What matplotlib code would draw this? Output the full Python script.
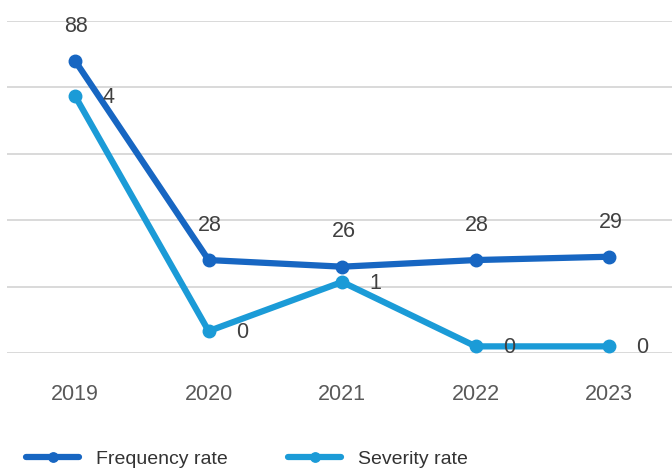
import matplotlib.pyplot as plt

years = ["2019", "2020", "2021", "2022", "2023"]
frequency_rate = [88, 28, 26, 28, 29]
severity_rate = [3.87, 0.33, 1.07, 0.10, 0.10]

dark_blue = "#1766C2"
light_blue = "#1B9BD7"

plt.rcParams['font.family'] = ['Liberation Sans', 'DejaVu Sans']

fig = plt.figure(figsize=(6.72, 4.72), dpi=100)
ax = fig.add_axes([0.0104, 0.2521, 0.9896, 0.7034])
ax2 = ax.twinx()

x = list(range(len(years)))

# frequency rate on the main axis
ax.plot(x, frequency_rate, color=dark_blue, lw=4.5, marker='o', ms=9,
        solid_capstyle='round', label="Frequency rate", zorder=3)
for xi, v in zip(x, frequency_rate):
    ax.annotate(f"{v:.0f}", (xi, v), xytext=(1, 25), textcoords='offset points',
                ha='center', va='center', fontsize=15.5, color='#404040')

# severity rate on its own (hidden) scale
ax2.plot(x, severity_rate, color=light_blue, lw=4.5, marker='o', ms=9,
         solid_capstyle='round', label="Severity rate", zorder=3)
for xi, v in zip(x, severity_rate):
    ax2.annotate(f"{v:.0f}", (xi, v), xytext=(24, -1), textcoords='offset points',
                 ha='center', va='center', fontsize=15.5, color='#404040')

ax.set_xlim(-0.51, 4.47)
ax.set_ylim(0, 100)
ax.set_yticks(range(0, 101, 20))
ax2.set_ylim(0, 5)
ax2.set_yticks([])

ax.grid(axis='y', color='#D9D9D9', lw=1.4)
ax.set_axisbelow(True)
for a in (ax, ax2):
    for s in a.spines.values():
        s.set_visible(False)
ax.tick_params(axis='y', left=False, labelleft=False)
ax.set_xticks(x)
ax.set_xticklabels(years, fontsize=15.5, color='#595959')
ax.tick_params(axis='x', length=0, pad=22)

h1, l1 = ax.get_legend_handles_labels()
h2, l2 = ax2.get_legend_handles_labels()
fig.legend(h1 + h2, l1 + l2, loc='center', bbox_to_anchor=(0.368, 0.027), ncol=2,
           frameon=False, fontsize=14, handlelength=2.7, handletextpad=0.9,
           columnspacing=3.1, markerscale=0.75, labelcolor='#333333')

fig.savefig("out.png", dpi=100)
